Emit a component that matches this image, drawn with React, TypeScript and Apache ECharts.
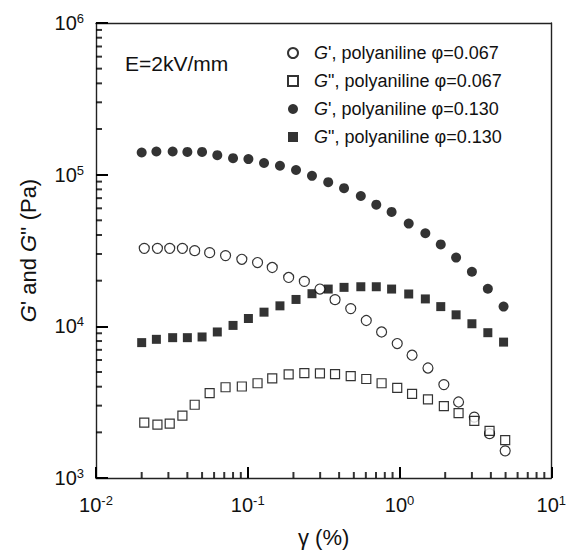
import React, { useEffect, useRef } from "react";
import * as echarts from "echarts";

// strain values (%)
const strainPani130 = [0.020, 0.025, 0.032, 0.040, 0.050, 0.063, 0.080, 0.101, 0.128, 0.163, 0.208, 0.265, 0.339, 0.431, 0.556, 0.703, 0.887, 1.15, 1.48, 1.87, 2.36, 3.00, 3.82, 4.85];
const strainPani067 = [0.0208, 0.0254, 0.0306, 0.0371, 0.0447, 0.0561, 0.0714, 0.0914, 0.116, 0.145, 0.186, 0.236, 0.299, 0.376, 0.477, 0.604, 0.762, 0.966, 1.21, 1.54, 1.96, 2.45, 3.11, 3.92, 4.97];

// moduli (Pa)
const gPrime067 = [32660, 32660, 32660, 32660, 31550, 30610, 29260, 27670, 26340, 24440, 21000, 19780, 17610, 14990, 13090, 10930, 9180, 7700, 6450, 5310, 4130, 3170, 2520, 1960, 1510];
const gDouble067 = [2317, 2249, 2282, 2574, 3040, 3625, 3967, 4010, 4215, 4542, 4820, 4920, 4900, 4843, 4700, 4495, 4215, 3926, 3589, 3297, 2980, 2681, 2377, 2045, 1778];
const gPrime130 = [140100, 142200, 142200, 141300, 141300, 134500, 128500, 126700, 119400, 114500, 107400, 98200, 89200, 81500, 72300, 63400, 56800, 47600, 41100, 34700, 28400, 22900, 17700, 13500];
const gDouble130 = [7810, 8210, 8420, 8420, 8510, 9180, 10140, 11260, 12400, 13650, 15040, 16410, 17610, 18070, 18240, 18240, 17610, 16340, 15160, 13490, 11910, 10400, 9080, 7870];

const seriesNames = ["G' 0.067", "G'' 0.067", "G' 0.130", "G'' 0.130"];
const legendLabels = ["{sp|}{i|G}{t|', polyaniline φ=0.067}", "{sp|}{i|G}{t|\", polyaniline φ=0.067}", "{sp|}{i|G}{t|', polyaniline φ=0.130}", "{sp|}{i|G}{t|\", polyaniline φ=0.130}"];

const xMinorTicks = [0.02, 0.03, 0.04, 0.05, 0.06, 0.07, 0.08, 0.09, 0.2, 0.3, 0.4, 0.5, 0.6, 0.7, 0.8, 0.9, 2, 3, 4, 5, 6, 7, 8, 9];
const yMinorTicks = [2000, 3000, 4000, 5000, 6000, 7000, 8000, 9000, 20000, 30000, 40000, 50000, 60000, 70000, 80000, 90000, 200000, 300000, 400000, 500000, 600000, 700000, 800000, 900000];

const FONT = "Liberation Sans, Arial, sans-serif";
const INK = "#000";

const zip = (xs: number[], ys: number[]) => xs.map((x, i) => [x, ys[i]]);

const powLabel = (v: number) => {
  const e = Math.round(Math.log10(v));
  return `{b|10}{s|${e}}`;
};

const labelRich = {
  b: { fontSize: 20, fontFamily: FONT, color: "#111", lineHeight: 22 },
  s: { fontSize: 13, fontFamily: FONT, color: "#111", verticalAlign: "top", lineHeight: 22, padding: [0, 0, 8, 0] },
};

const frameAxis = {
  axisLine: { show: true, lineStyle: { color: "#222", width: 1.4 } },
  axisTick: { show: false },
  axisLabel: { show: false },
  splitLine: { show: false },
};

export default function App() {
  const ref = useRef<HTMLDivElement>(null);
  useEffect(() => {
    document.body.style.margin = "0";
    const chart = echarts.init(ref.current!, null, { renderer: "svg" });
    const open = { color: "#fff", borderColor: "#000", borderWidth: 1.2 };
    const filled = { color: "#000" };
    chart.setOption({
      animation: false,
      backgroundColor: "#fff",
      grid: { left: 96, right: 16, top: 23, bottom: 72 },
      title: {
        text: "E=2kV/mm",
        left: 125,
        top: 53,
        padding: 0,
        textStyle: { fontSize: 21, fontWeight: "normal", fontFamily: FONT, color: "#111", lineHeight: 21 },
      },
      legend: {
        data: seriesNames,
        orient: "vertical",
        left: 282,
        top: 39,
        itemWidth: 10,
        itemHeight: 10,
        itemGap: 10,
        formatter: (name: string) => legendLabels[seriesNames.indexOf(name)],
        textStyle: {
          fontSize: 18,
          fontFamily: FONT,
          color: "#111",
          lineHeight: 18,
          rich: {
            sp: { width: 11 },
            i: { fontStyle: "italic", fontSize: 18, fontFamily: FONT, color: "#111" },
            t: { fontSize: 18, fontFamily: FONT, color: "#111" },
          },
        },
        selectedMode: false,
      },
      xAxis: [
        {
          type: "log",
          min: 0.01,
          max: 10,
          name: "γ (%)",
          nameLocation: "middle",
          nameGap: 48,
          nameTextStyle: { fontSize: 22, fontFamily: FONT, color: "#111" },
          axisLine: { show: true, lineStyle: { color: "#222", width: 1.4 } },
          axisTick: { show: true, inside: true, length: 11, lineStyle: { color: INK, width: 2 } },
          axisLabel: { show: true, formatter: powLabel, rich: labelRich, margin: 16 },
          splitLine: { show: false },
        },
        { type: "log", min: 0.01, max: 10, position: "top", ...frameAxis },
      ],
      yAxis: [
        {
          type: "log",
          min: 1000,
          max: 1000000,
          name: "{i|G}{t|' and }{i|G}{t|'' (Pa)}",
          nameLocation: "middle",
          nameGap: 57,
          nameTextStyle: {
            fontSize: 22,
            fontFamily: FONT,
            color: "#111",
            rich: {
              i: { fontStyle: "italic", fontSize: 22, fontFamily: FONT, color: "#111" },
              t: { fontSize: 22, fontFamily: FONT, color: "#111" },
            },
          },
          axisLine: { show: true, lineStyle: { color: "#222", width: 1.4 } },
          axisTick: { show: true, inside: true, length: 12, lineStyle: { color: INK, width: 2 } },
          axisLabel: { show: true, formatter: powLabel, rich: labelRich, margin: 12 },
          splitLine: { show: false },
        },
        { type: "log", min: 1000, max: 1000000, position: "right", ...frameAxis },
      ],
      series: [
        { name: seriesNames[0], type: "scatter", symbol: "circle", symbolSize: 10, itemStyle: open, data: zip(strainPani067, gPrime067), z: 3 },
        { name: seriesNames[1], type: "scatter", symbol: "rect", symbolSize: 9, itemStyle: open, data: zip(strainPani067, gDouble067), z: 3 },
        { name: seriesNames[2], type: "scatter", symbol: "circle", symbolSize: 10, itemStyle: filled, data: zip(strainPani130, gPrime130), z: 2 },
        { name: seriesNames[3], type: "scatter", symbol: "rect", symbolSize: 9, itemStyle: filled, data: zip(strainPani130, gDouble130), z: 2 },
        { type: "scatter", symbol: "rect", symbolSize: [2, 6], symbolOffset: [0, -3], itemStyle: { color: INK }, data: xMinorTicks.map((v) => [v, 1000]) },
        { type: "scatter", symbol: "rect", symbolSize: [6, 2], symbolOffset: [3, 0], itemStyle: { color: INK }, data: yMinorTicks.map((v) => [0.01, v]) },
      ],
    });
    return () => chart.dispose();
  }, []);
  return <div ref={ref} style={{ position: "absolute", left: 0, top: 0, width: 569, height: 553 }} />;
}
